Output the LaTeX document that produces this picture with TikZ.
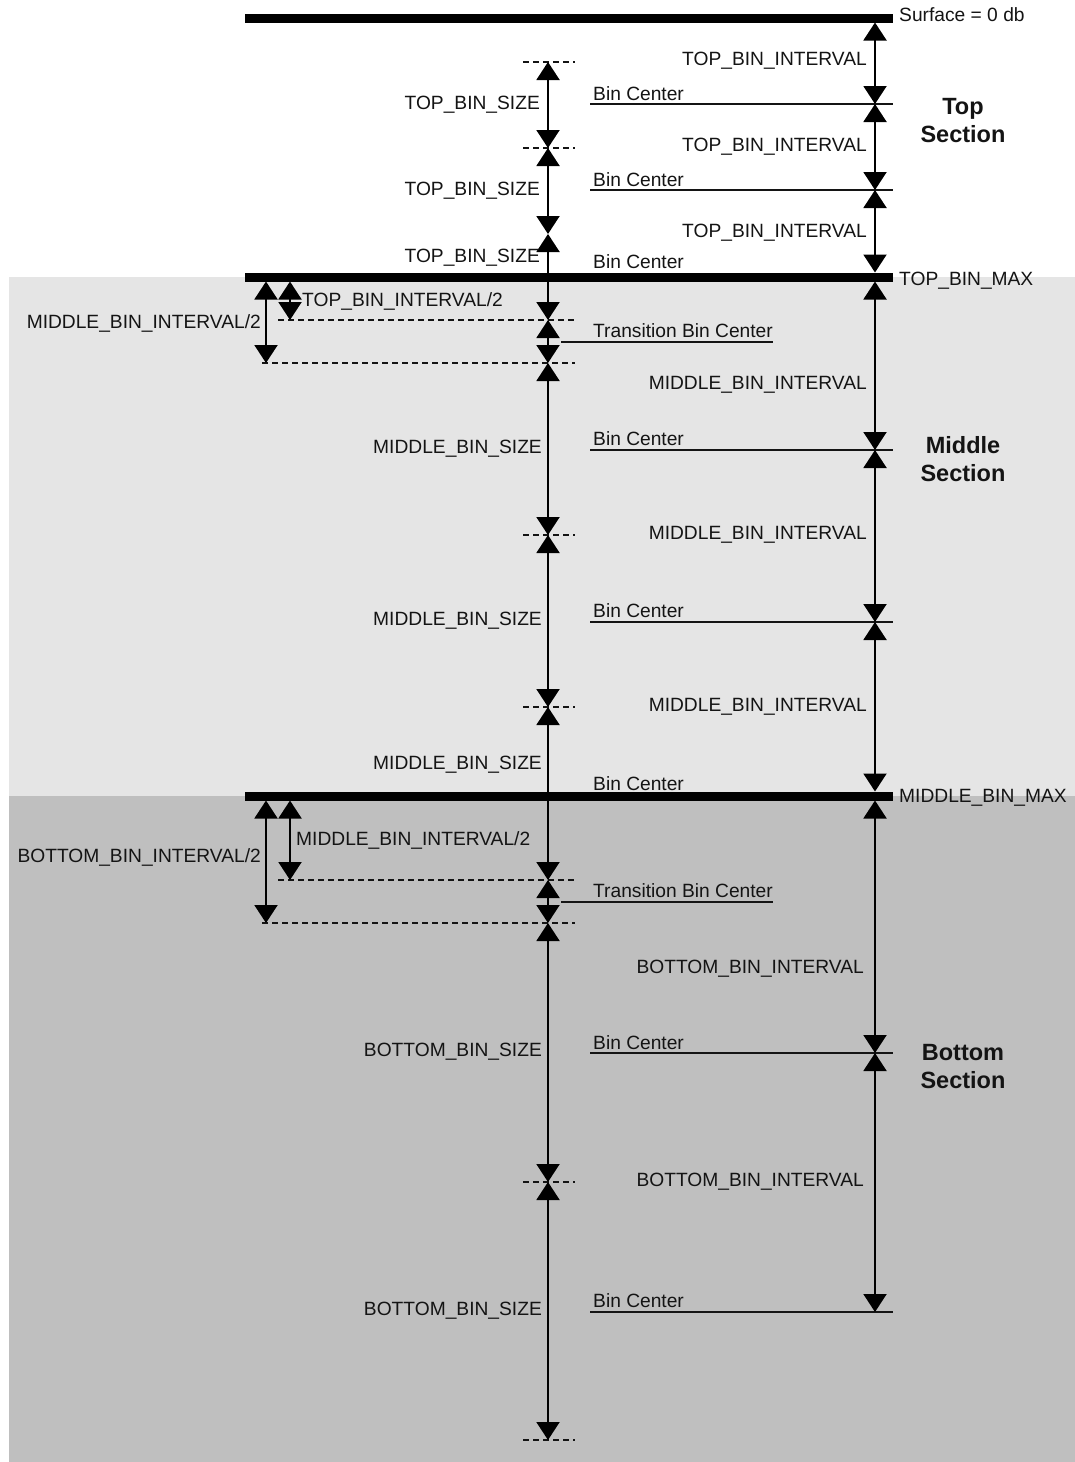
\documentclass[tikz,border=0pt]{standalone}
\usepackage{fontspec}
\setmainfont{Liberation Sans}
\usetikzlibrary{arrows.meta}
\definecolor{lightsec}{HTML}{E5E5E5}
\definecolor{darksec}{HTML}{BFBFBF}
\definecolor{ink}{HTML}{141414}
\tikzset{
  lbl/.style={inner sep=0pt, text=ink, font=\fontsize{19.2}{22}\selectfont},
  sect/.style={inner sep=0pt, text=ink, align=center, font=\bfseries\fontsize{23.5}{28}\selectfont},
  thickline/.style={line width=9pt, draw=black},
  binline/.style={line width=1.8pt, draw=ink},
  dashline/.style={line width=1.8pt, draw=ink, dash pattern=on 6pt off 4pt},
  dim/.style={line width=2pt, draw=black, {Triangle[width=23pt,length=18pt]}-{Triangle[width=23pt,length=18pt]}},
}
\begin{document}
\begin{tikzpicture}[x=1pt,y=-1pt]
\useasboundingbox (0,0) rectangle (1075,1462);
\fill[white] (0,0) rectangle (1075,1462);
% section backgrounds
\fill[lightsec] (9,277) rectangle (1075,796);
\fill[darksec] (9,796) rectangle (1075,1462);

% bin center lines
\foreach \yy in {104,190,450,622,1053,1312} \draw[binline] (590,\yy) -- (893,\yy);
\draw[binline] (561,342) -- (773,342);
\draw[binline] (561,902) -- (773,902);

% dashed boundaries
\foreach \yy in {62,148,535,707,1182,1440} \draw[dashline] (523,\yy) -- (575,\yy);
\draw[dashline] (278,320) -- (575,320);
\draw[dashline] (262,363) -- (575,363);
\draw[dashline] (278,880) -- (575,880);
\draw[dashline] (262,923) -- (575,923);

% thick section lines
\draw[thickline] (245,18) -- (893,18);
\draw[thickline] (245,277) -- (893,277);
\draw[thickline] (245,796) -- (893,796);

% right interval arrows
\coordinate (r0) at (875,22.5);
\coordinate (r1) at (875,104);
\coordinate (r2) at (875,190);
\coordinate (r3a) at (875,272.5);
\coordinate (r3b) at (875,281.5);
\coordinate (r4) at (875,450);
\coordinate (r5) at (875,622);
\coordinate (r6a) at (875,791.5);
\coordinate (r6b) at (875,800.5);
\coordinate (r7) at (875,1053);
\coordinate (r8) at (875,1312);
\draw[dim] (r0) -- (r1);
\draw[dim] (r1) -- (r2);
\draw[dim] (r2) -- (r3a);
\draw[dim] (r3b) -- (r4);
\draw[dim] (r4) -- (r5);
\draw[dim] (r5) -- (r6a);
\draw[dim] (r6b) -- (r7);
\draw[dim] (r7) -- (r8);

% bin size arrows
\coordinate (s0) at (548,62);
\coordinate (s1) at (548,148);
\coordinate (s2) at (548,234);
\coordinate (s3) at (548,320);
\coordinate (s4) at (548,363);
\coordinate (s5) at (548,535);
\coordinate (s6) at (548,707);
\coordinate (s7) at (548,880);
\coordinate (s8) at (548,923);
\coordinate (s9) at (548,1182);
\coordinate (s10) at (548,1440);
\draw[dim] (s0) -- (s1);
\draw[dim] (s1) -- (s2);
\draw[dim] (s2) -- (s3);
\draw[dim] (s3) -- (s4);
\draw[dim] (s4) -- (s5);
\draw[dim] (s5) -- (s6);
\draw[dim] (s6) -- (s7);
\draw[dim] (s7) -- (s8);
\draw[dim] (s8) -- (s9);
\draw[dim] (s9) -- (s10);

% half interval arrows
\coordinate (ha1) at (266,281.5);
\coordinate (ha2) at (266,363);
\coordinate (hb1) at (290,281.5);
\coordinate (hb2) at (290,320);
\coordinate (hc1) at (266,800.5);
\coordinate (hc2) at (266,923);
\coordinate (hd1) at (290,800.5);
\coordinate (hd2) at (290,880);
\draw[dim] (ha1) -- (ha2);
\draw[dim] (hb1) -- (hb2);
\draw[dim] (hc1) -- (hc2);
\draw[dim] (hd1) -- (hd2);

% labels
\node[lbl, anchor=base west] (surf) at (899,21) {Surface = 0 db};
\node[lbl, anchor=base west] (tmax) at (899,285) {TOP\_BIN\_MAX};
\node[lbl, anchor=base west] (mmax) at (899,802) {MIDDLE\_BIN\_MAX};

\node[lbl, anchor=base east] (ti1) at (867,65) {TOP\_BIN\_INTERVAL};
\node[lbl, anchor=base east] (ti2) at (867,151) {TOP\_BIN\_INTERVAL};
\node[lbl, anchor=base east] (ti3) at (867,237) {TOP\_BIN\_INTERVAL};
\node[lbl, anchor=base east] (mi1) at (867,389) {MIDDLE\_BIN\_INTERVAL};
\node[lbl, anchor=base east] (mi2) at (867,539) {MIDDLE\_BIN\_INTERVAL};
\node[lbl, anchor=base east] (mi3) at (867,711) {MIDDLE\_BIN\_INTERVAL};
\node[lbl, anchor=base east] (bi1) at (864,973) {BOTTOM\_BIN\_INTERVAL};
\node[lbl, anchor=base east] (bi2) at (864,1186) {BOTTOM\_BIN\_INTERVAL};

\node[lbl, anchor=base east] (ts1) at (540,109) {TOP\_BIN\_SIZE};
\node[lbl, anchor=base east] (ts2) at (540,195) {TOP\_BIN\_SIZE};
\node[lbl, anchor=base east] (ts3) at (540,262) {TOP\_BIN\_SIZE};
\node[lbl, anchor=base east] (ms1) at (542,453) {MIDDLE\_BIN\_SIZE};
\node[lbl, anchor=base east] (ms2) at (542,625) {MIDDLE\_BIN\_SIZE};
\node[lbl, anchor=base east] (ms3) at (542,769) {MIDDLE\_BIN\_SIZE};
\node[lbl, anchor=base east] (bs1) at (542,1056) {BOTTOM\_BIN\_SIZE};
\node[lbl, anchor=base east] (bs2) at (542,1315) {BOTTOM\_BIN\_SIZE};

\foreach \yy/\nm in {100/bc1,186/bc2,268/bc3,445/bc4,617/bc5,790/bc6,1049/bc7,1307/bc8}
  \node[lbl, anchor=base west] (\nm) at (593,\yy) {Bin Center};
\node[lbl, anchor=base west] (tr1) at (593,337) {Transition Bin Center};
\node[lbl, anchor=base west] (tr2) at (593,897) {Transition Bin Center};

\node[lbl, anchor=base west] (th1) at (302,306) {TOP\_BIN\_INTERVAL/2};
\node[lbl, anchor=base east] (mh1) at (261,328) {MIDDLE\_BIN\_INTERVAL/2};
\node[lbl, anchor=base west] (mh2) at (296,845) {MIDDLE\_BIN\_INTERVAL/2};
\node[lbl, anchor=base east] (bh1) at (261,862) {BOTTOM\_BIN\_INTERVAL/2};

\node[sect] (stop) at (963,121) {Top\\Section};
\node[sect] (smid) at (963,459) {Middle\\Section};
\node[sect] (sbot) at (963,1067) {Bottom\\Section};
\end{tikzpicture}
\end{document}
